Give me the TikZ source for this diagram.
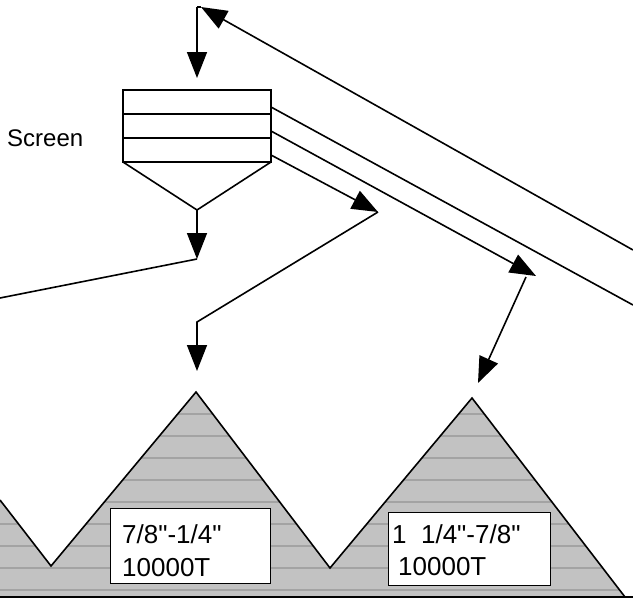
\documentclass[tikz,border=0pt]{standalone}
\usepackage{fontspec}
\setmainfont{Liberation Sans}
\newfontfamily\labfont{Liberation Sans}
\usetikzlibrary{arrows.meta}
\begin{document}
\begin{tikzpicture}[x=1pt,y=-1pt,
  ln/.style={line width=1.6pt},
  arr/.style={ln,-{Triangle[length=26pt,width=20pt]}},
  txt/.style={font=\labfont\fontsize{26}{30}\selectfont, inner sep=0pt, anchor=base west},
  labbox/.style={draw, fill=white, line width=1pt},
  pilefill/.style={fill=gray!48},
  streak/.style={gray!72, line width=1.1pt}]
\useasboundingbox[fill=white] (0,0) rectangle (633,605);

% piles
\fill[pilefill] (0,500) -- (51,566) -- (196,392) -- (330,568) -- (472,398) -- (625,597) -- (0,597) -- cycle;
\begin{scope}
  \clip (0,500) -- (51,566) -- (196,392) -- (330,568) -- (472,398) -- (625,597) -- (0,597) -- cycle;
  \foreach \yy in {414,436,...,596} \draw[streak] (0,\yy) -- (633,\yy);
\end{scope}
\draw[ln] (0,500) -- (51,566) -- (196,392) -- (330,568) -- (472,398) -- (625,597);
\draw[ln] (0,597) -- (633,597);

% label boxes
\draw[labbox] (110,508) rectangle (270,583);
\draw[labbox] (388,512) rectangle (550,585);
\node[txt] (l1a) at (122,543) {7/8\symbol{34}-1/4\symbol{34}};
\node[txt] (l1b) at (122,576) {10000T};
\node[txt] (l2a) at (392,543) {1\ \ 1/4\symbol{34}-7/8\symbol{34}};
\node[txt] (l2b) at (398,575) {10000T};

% screen
\draw[ln] (123,90) rectangle (271,162);
\draw[ln] (123,114) -- (271,114);
\draw[ln] (123,138) -- (271,138);
\draw[ln] (123,162) -- (197,210) -- (271,162);
\node[txt, font=\labfont\fontsize{24}{28}\selectfont] (scr) at (7,146) {Screen};

% coordinates
\coordinate (top) at (197,7);
\coordinate (toptip) at (201,7);
\coordinate (screentop) at (197,78);
\coordinate (apex) at (197,210);
\coordinate (under) at (197,259);
\coordinate (leftend) at (0,298);
\coordinate (r0) at (633,250);
\coordinate (s1) at (271,107);
\coordinate (s2) at (271,131);
\coordinate (s3) at (271,155);
\coordinate (r1) at (633,305);
\coordinate (t2) at (536,276);
\coordinate (t3) at (378,212);
\coordinate (b2) at (526,277);
\coordinate (bend) at (197,322);
\coordinate (peak1) at (197,371);
\coordinate (peak2) at (478,383);

% connectors
\draw[arr] (r0) -- (toptip);
\draw[ln] (top) -- (toptip);
\draw[arr] (top) -- (screentop);
\draw[arr] (apex) -- (under);
\draw[ln] (under) -- (leftend);
\draw[ln] (s1) -- (r1);
\draw[arr] (s2) -- (t2);
\draw[arr] (s3) -- (t3);
\draw[arr] (t3) -- (bend) -- (peak1);
\draw[arr] (b2) -- (peak2);
\end{tikzpicture}
\end{document}
